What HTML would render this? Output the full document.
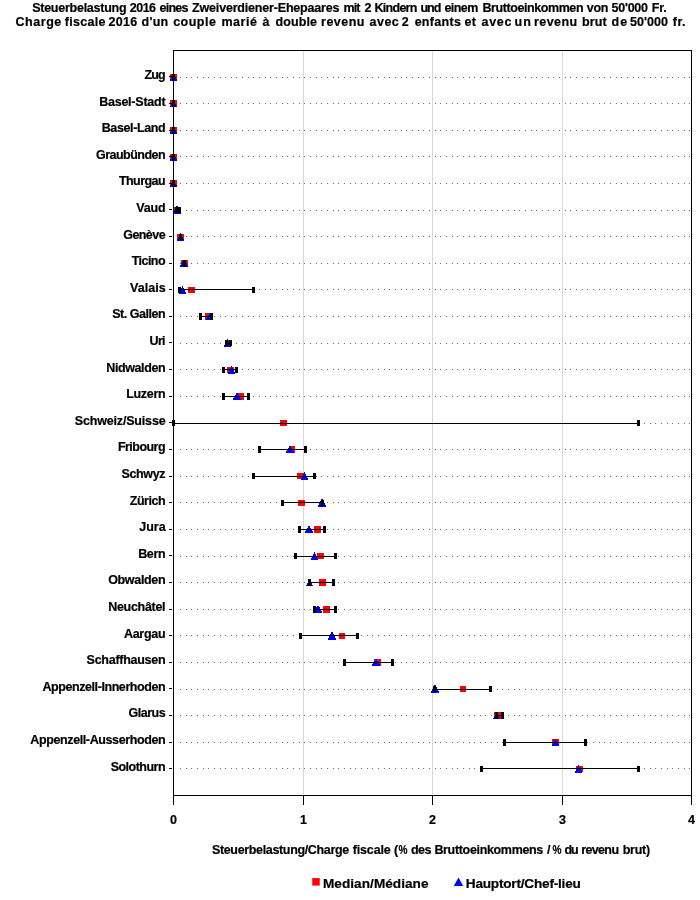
<!DOCTYPE html>
<html><head><meta charset="utf-8"><title>Steuerbelastung 2016</title>
<style>
html,body{margin:0;padding:0;background:#fff;}
body{width:700px;height:900px;overflow:hidden;}
svg{display:block;will-change:transform;font-family:"Liberation Sans",sans-serif;font-weight:bold;fill:#000;}
text{stroke:#000;stroke-width:0.2px;}
.t{font-size:12.5px;}
.c{font-size:12.5px;text-anchor:end;}
.x{font-size:12.5px;text-anchor:middle;}
.l{font-size:13.6px;}
.k{shape-rendering:crispEdges;}
</style></head><body>
<svg width="700" height="900" viewBox="0 0 700 900">
<rect width="700" height="900" fill="#fff"/>

<g class="t"><text x="32.17" y="12" textLength="94.41" lengthAdjust="spacing">Steuerbelastung</text><text x="129.86" y="12" textLength="26.12" lengthAdjust="spacing">2016</text><text x="159.48" y="12" textLength="29.03" lengthAdjust="spacing">eines</text><text x="192.07" y="12" textLength="147.43" lengthAdjust="spacing">Zweiverdiener-Ehepaares</text><text x="343.39" y="12" textLength="17.01" lengthAdjust="spacing">mit</text><text x="364.62" y="12">2</text><text x="374.41" y="12" textLength="43.02" lengthAdjust="spacing">Kindern</text><text x="420.44" y="12" textLength="21" lengthAdjust="spacing">und</text><text x="444.45" y="12" textLength="33.95" lengthAdjust="spacing">einem</text><text x="482.39" y="12" textLength="101.13" lengthAdjust="spacing">Bruttoeinkommen</text><text x="586.76" y="12" textLength="21.75" lengthAdjust="spacing">von</text><text x="611.59" y="12" textLength="36.39" lengthAdjust="spacing">50'000</text><text x="651.84" y="12" textLength="14.96" lengthAdjust="spacing">Fr.</text></g>
<g class="t"><text x="15.54" y="26" textLength="45.75" lengthAdjust="spacing">Charge</text><text x="64.84" y="26" textLength="40.63" lengthAdjust="spacing">fiscale</text><text x="108.62" y="26" textLength="28.57" lengthAdjust="spacing">2016</text><text x="141.54" y="26" textLength="26.7" lengthAdjust="spacing">d'un</text><text x="173.15" y="26" textLength="42.73" lengthAdjust="spacing">couple</text><text x="221.38" y="26" textLength="35.66" lengthAdjust="spacing">marié</text><text x="262.57" y="26">à</text><text x="275.57" y="26" textLength="41.47" lengthAdjust="spacing">double</text><text x="321.02" y="26" textLength="43.49" lengthAdjust="spacing">revenu</text><text x="369.62" y="26" textLength="29.09" lengthAdjust="spacing">avec</text><text x="401.7" y="26">2</text><text x="414.63" y="26" textLength="46.21" lengthAdjust="spacing">enfants</text><text x="464.61" y="26" textLength="11.3" lengthAdjust="spacing">et</text><text x="481.52" y="26" textLength="29.82" lengthAdjust="spacing">avec</text><text x="514.49" y="26" textLength="16.51" lengthAdjust="spacing">un</text><text x="533.91" y="26" textLength="43.31" lengthAdjust="spacing">revenu</text><text x="582.02" y="26" textLength="24.63" lengthAdjust="spacing">brut</text><text x="611.59" y="26" textLength="15.49" lengthAdjust="spacing">de</text><text x="630.1" y="26" textLength="37.97" lengthAdjust="spacing">50'000</text><text x="672.79" y="26" textLength="12.67" lengthAdjust="spacing">fr.</text></g>
<g class="k" fill="#d8d8d8"><rect x="303" y="51" width="1" height="744"/><rect x="432" y="51" width="1" height="744"/><rect x="562" y="51" width="1" height="744"/></g>
<g class="k" stroke="#666" stroke-width="1" fill="none"><path d="M180 77.5h1m5 0h1m4 0h1m5 0h1m5 0h1m4 0h1m5 0h1m5 0h1m4 0h1m5 0h1m4 0h1m5 0h1m5 0h1m4 0h1m5 0h1m5 0h1m4 0h1m5 0h1m5 0h1m4 0h1m5 0h1m5 0h1m4 0h1m5 0h1m5 0h1m4 0h1m5 0h1m5 0h1m4 0h1m5 0h1m5 0h1m4 0h1m5 0h1m5 0h1m4 0h1m5 0h1m5 0h1m4 0h1m5 0h1m5 0h1m4 0h1m5 0h1m5 0h1m4 0h1m5 0h1m5 0h1m4 0h1m5 0h1m5 0h1m4 0h1m5 0h1m5 0h1m4 0h1m5 0h1m4 0h1m5 0h1m5 0h1m4 0h1m5 0h1m5 0h1m4 0h1m5 0h1m5 0h1m4 0h1m5 0h1m5 0h1m4 0h1m5 0h1m5 0h1m4 0h1m5 0h1m5 0h1m4 0h1m5 0h1m5 0h1m4 0h1m5 0h1m5 0h1m4 0h1m5 0h1m5 0h1m4 0h1m5 0h1m5 0h1m4 0h1m5 0h1m5 0h1m4 0h1m5 0h1m5 0h1m4 0h1"/><path d="M180 103.5h1m5 0h1m4 0h1m5 0h1m5 0h1m4 0h1m5 0h1m5 0h1m4 0h1m5 0h1m4 0h1m5 0h1m5 0h1m4 0h1m5 0h1m5 0h1m4 0h1m5 0h1m5 0h1m4 0h1m5 0h1m5 0h1m4 0h1m5 0h1m5 0h1m4 0h1m5 0h1m5 0h1m4 0h1m5 0h1m5 0h1m4 0h1m5 0h1m5 0h1m4 0h1m5 0h1m5 0h1m4 0h1m5 0h1m5 0h1m4 0h1m5 0h1m5 0h1m4 0h1m5 0h1m5 0h1m4 0h1m5 0h1m5 0h1m4 0h1m5 0h1m5 0h1m4 0h1m5 0h1m4 0h1m5 0h1m5 0h1m4 0h1m5 0h1m5 0h1m4 0h1m5 0h1m5 0h1m4 0h1m5 0h1m5 0h1m4 0h1m5 0h1m5 0h1m4 0h1m5 0h1m5 0h1m4 0h1m5 0h1m5 0h1m4 0h1m5 0h1m5 0h1m4 0h1m5 0h1m5 0h1m4 0h1m5 0h1m5 0h1m4 0h1m5 0h1m5 0h1m4 0h1m5 0h1m5 0h1m4 0h1"/><path d="M180 130.5h1m5 0h1m4 0h1m5 0h1m5 0h1m4 0h1m5 0h1m5 0h1m4 0h1m5 0h1m4 0h1m5 0h1m5 0h1m4 0h1m5 0h1m5 0h1m4 0h1m5 0h1m5 0h1m4 0h1m5 0h1m5 0h1m4 0h1m5 0h1m5 0h1m4 0h1m5 0h1m5 0h1m4 0h1m5 0h1m5 0h1m4 0h1m5 0h1m5 0h1m4 0h1m5 0h1m5 0h1m4 0h1m5 0h1m5 0h1m4 0h1m5 0h1m5 0h1m4 0h1m5 0h1m5 0h1m4 0h1m5 0h1m5 0h1m4 0h1m5 0h1m5 0h1m4 0h1m5 0h1m4 0h1m5 0h1m5 0h1m4 0h1m5 0h1m5 0h1m4 0h1m5 0h1m5 0h1m4 0h1m5 0h1m5 0h1m4 0h1m5 0h1m5 0h1m4 0h1m5 0h1m5 0h1m4 0h1m5 0h1m5 0h1m4 0h1m5 0h1m5 0h1m4 0h1m5 0h1m5 0h1m4 0h1m5 0h1m5 0h1m4 0h1m5 0h1m5 0h1m4 0h1m5 0h1m5 0h1m4 0h1"/><path d="M180 156.5h1m5 0h1m4 0h1m5 0h1m5 0h1m4 0h1m5 0h1m5 0h1m4 0h1m5 0h1m4 0h1m5 0h1m5 0h1m4 0h1m5 0h1m5 0h1m4 0h1m5 0h1m5 0h1m4 0h1m5 0h1m5 0h1m4 0h1m5 0h1m5 0h1m4 0h1m5 0h1m5 0h1m4 0h1m5 0h1m5 0h1m4 0h1m5 0h1m5 0h1m4 0h1m5 0h1m5 0h1m4 0h1m5 0h1m5 0h1m4 0h1m5 0h1m5 0h1m4 0h1m5 0h1m5 0h1m4 0h1m5 0h1m5 0h1m4 0h1m5 0h1m5 0h1m4 0h1m5 0h1m4 0h1m5 0h1m5 0h1m4 0h1m5 0h1m5 0h1m4 0h1m5 0h1m5 0h1m4 0h1m5 0h1m5 0h1m4 0h1m5 0h1m5 0h1m4 0h1m5 0h1m5 0h1m4 0h1m5 0h1m5 0h1m4 0h1m5 0h1m5 0h1m4 0h1m5 0h1m5 0h1m4 0h1m5 0h1m5 0h1m4 0h1m5 0h1m5 0h1m4 0h1m5 0h1m5 0h1m4 0h1"/><path d="M180 183.5h1m5 0h1m4 0h1m5 0h1m5 0h1m4 0h1m5 0h1m5 0h1m4 0h1m5 0h1m4 0h1m5 0h1m5 0h1m4 0h1m5 0h1m5 0h1m4 0h1m5 0h1m5 0h1m4 0h1m5 0h1m5 0h1m4 0h1m5 0h1m5 0h1m4 0h1m5 0h1m5 0h1m4 0h1m5 0h1m5 0h1m4 0h1m5 0h1m5 0h1m4 0h1m5 0h1m5 0h1m4 0h1m5 0h1m5 0h1m4 0h1m5 0h1m5 0h1m4 0h1m5 0h1m5 0h1m4 0h1m5 0h1m5 0h1m4 0h1m5 0h1m5 0h1m4 0h1m5 0h1m4 0h1m5 0h1m5 0h1m4 0h1m5 0h1m5 0h1m4 0h1m5 0h1m5 0h1m4 0h1m5 0h1m5 0h1m4 0h1m5 0h1m5 0h1m4 0h1m5 0h1m5 0h1m4 0h1m5 0h1m5 0h1m4 0h1m5 0h1m5 0h1m4 0h1m5 0h1m5 0h1m4 0h1m5 0h1m5 0h1m4 0h1m5 0h1m5 0h1m4 0h1m5 0h1m5 0h1m4 0h1"/><path d="M180 210.5h1m5 0h1m4 0h1m5 0h1m5 0h1m4 0h1m5 0h1m5 0h1m4 0h1m5 0h1m4 0h1m5 0h1m5 0h1m4 0h1m5 0h1m5 0h1m4 0h1m5 0h1m5 0h1m4 0h1m5 0h1m5 0h1m4 0h1m5 0h1m5 0h1m4 0h1m5 0h1m5 0h1m4 0h1m5 0h1m5 0h1m4 0h1m5 0h1m5 0h1m4 0h1m5 0h1m5 0h1m4 0h1m5 0h1m5 0h1m4 0h1m5 0h1m5 0h1m4 0h1m5 0h1m5 0h1m4 0h1m5 0h1m5 0h1m4 0h1m5 0h1m5 0h1m4 0h1m5 0h1m4 0h1m5 0h1m5 0h1m4 0h1m5 0h1m5 0h1m4 0h1m5 0h1m5 0h1m4 0h1m5 0h1m5 0h1m4 0h1m5 0h1m5 0h1m4 0h1m5 0h1m5 0h1m4 0h1m5 0h1m5 0h1m4 0h1m5 0h1m5 0h1m4 0h1m5 0h1m5 0h1m4 0h1m5 0h1m5 0h1m4 0h1m5 0h1m5 0h1m4 0h1m5 0h1m5 0h1m4 0h1"/><path d="M180 236.5h1m5 0h1m4 0h1m5 0h1m5 0h1m4 0h1m5 0h1m5 0h1m4 0h1m5 0h1m4 0h1m5 0h1m5 0h1m4 0h1m5 0h1m5 0h1m4 0h1m5 0h1m5 0h1m4 0h1m5 0h1m5 0h1m4 0h1m5 0h1m5 0h1m4 0h1m5 0h1m5 0h1m4 0h1m5 0h1m5 0h1m4 0h1m5 0h1m5 0h1m4 0h1m5 0h1m5 0h1m4 0h1m5 0h1m5 0h1m4 0h1m5 0h1m5 0h1m4 0h1m5 0h1m5 0h1m4 0h1m5 0h1m5 0h1m4 0h1m5 0h1m5 0h1m4 0h1m5 0h1m4 0h1m5 0h1m5 0h1m4 0h1m5 0h1m5 0h1m4 0h1m5 0h1m5 0h1m4 0h1m5 0h1m5 0h1m4 0h1m5 0h1m5 0h1m4 0h1m5 0h1m5 0h1m4 0h1m5 0h1m5 0h1m4 0h1m5 0h1m5 0h1m4 0h1m5 0h1m5 0h1m4 0h1m5 0h1m5 0h1m4 0h1m5 0h1m5 0h1m4 0h1m5 0h1m5 0h1m4 0h1"/><path d="M180 263.5h1m5 0h1m4 0h1m5 0h1m5 0h1m4 0h1m5 0h1m5 0h1m4 0h1m5 0h1m4 0h1m5 0h1m5 0h1m4 0h1m5 0h1m5 0h1m4 0h1m5 0h1m5 0h1m4 0h1m5 0h1m5 0h1m4 0h1m5 0h1m5 0h1m4 0h1m5 0h1m5 0h1m4 0h1m5 0h1m5 0h1m4 0h1m5 0h1m5 0h1m4 0h1m5 0h1m5 0h1m4 0h1m5 0h1m5 0h1m4 0h1m5 0h1m5 0h1m4 0h1m5 0h1m5 0h1m4 0h1m5 0h1m5 0h1m4 0h1m5 0h1m5 0h1m4 0h1m5 0h1m4 0h1m5 0h1m5 0h1m4 0h1m5 0h1m5 0h1m4 0h1m5 0h1m5 0h1m4 0h1m5 0h1m5 0h1m4 0h1m5 0h1m5 0h1m4 0h1m5 0h1m5 0h1m4 0h1m5 0h1m5 0h1m4 0h1m5 0h1m5 0h1m4 0h1m5 0h1m5 0h1m4 0h1m5 0h1m5 0h1m4 0h1m5 0h1m5 0h1m4 0h1m5 0h1m5 0h1m4 0h1"/><path d="M180 289.5h1m5 0h1m4 0h1m5 0h1m5 0h1m4 0h1m5 0h1m5 0h1m4 0h1m5 0h1m4 0h1m5 0h1m5 0h1m4 0h1m5 0h1m5 0h1m4 0h1m5 0h1m5 0h1m4 0h1m5 0h1m5 0h1m4 0h1m5 0h1m5 0h1m4 0h1m5 0h1m5 0h1m4 0h1m5 0h1m5 0h1m4 0h1m5 0h1m5 0h1m4 0h1m5 0h1m5 0h1m4 0h1m5 0h1m5 0h1m4 0h1m5 0h1m5 0h1m4 0h1m5 0h1m5 0h1m4 0h1m5 0h1m5 0h1m4 0h1m5 0h1m5 0h1m4 0h1m5 0h1m4 0h1m5 0h1m5 0h1m4 0h1m5 0h1m5 0h1m4 0h1m5 0h1m5 0h1m4 0h1m5 0h1m5 0h1m4 0h1m5 0h1m5 0h1m4 0h1m5 0h1m5 0h1m4 0h1m5 0h1m5 0h1m4 0h1m5 0h1m5 0h1m4 0h1m5 0h1m5 0h1m4 0h1m5 0h1m5 0h1m4 0h1m5 0h1m5 0h1m4 0h1m5 0h1m5 0h1m4 0h1"/><path d="M180 316.5h1m5 0h1m4 0h1m5 0h1m5 0h1m4 0h1m5 0h1m5 0h1m4 0h1m5 0h1m4 0h1m5 0h1m5 0h1m4 0h1m5 0h1m5 0h1m4 0h1m5 0h1m5 0h1m4 0h1m5 0h1m5 0h1m4 0h1m5 0h1m5 0h1m4 0h1m5 0h1m5 0h1m4 0h1m5 0h1m5 0h1m4 0h1m5 0h1m5 0h1m4 0h1m5 0h1m5 0h1m4 0h1m5 0h1m5 0h1m4 0h1m5 0h1m5 0h1m4 0h1m5 0h1m5 0h1m4 0h1m5 0h1m5 0h1m4 0h1m5 0h1m5 0h1m4 0h1m5 0h1m4 0h1m5 0h1m5 0h1m4 0h1m5 0h1m5 0h1m4 0h1m5 0h1m5 0h1m4 0h1m5 0h1m5 0h1m4 0h1m5 0h1m5 0h1m4 0h1m5 0h1m5 0h1m4 0h1m5 0h1m5 0h1m4 0h1m5 0h1m5 0h1m4 0h1m5 0h1m5 0h1m4 0h1m5 0h1m5 0h1m4 0h1m5 0h1m5 0h1m4 0h1m5 0h1m5 0h1m4 0h1"/><path d="M180 343.5h1m5 0h1m4 0h1m5 0h1m5 0h1m4 0h1m5 0h1m5 0h1m4 0h1m5 0h1m4 0h1m5 0h1m5 0h1m4 0h1m5 0h1m5 0h1m4 0h1m5 0h1m5 0h1m4 0h1m5 0h1m5 0h1m4 0h1m5 0h1m5 0h1m4 0h1m5 0h1m5 0h1m4 0h1m5 0h1m5 0h1m4 0h1m5 0h1m5 0h1m4 0h1m5 0h1m5 0h1m4 0h1m5 0h1m5 0h1m4 0h1m5 0h1m5 0h1m4 0h1m5 0h1m5 0h1m4 0h1m5 0h1m5 0h1m4 0h1m5 0h1m5 0h1m4 0h1m5 0h1m4 0h1m5 0h1m5 0h1m4 0h1m5 0h1m5 0h1m4 0h1m5 0h1m5 0h1m4 0h1m5 0h1m5 0h1m4 0h1m5 0h1m5 0h1m4 0h1m5 0h1m5 0h1m4 0h1m5 0h1m5 0h1m4 0h1m5 0h1m5 0h1m4 0h1m5 0h1m5 0h1m4 0h1m5 0h1m5 0h1m4 0h1m5 0h1m5 0h1m4 0h1m5 0h1m5 0h1m4 0h1"/><path d="M180 369.5h1m5 0h1m4 0h1m5 0h1m5 0h1m4 0h1m5 0h1m5 0h1m4 0h1m5 0h1m4 0h1m5 0h1m5 0h1m4 0h1m5 0h1m5 0h1m4 0h1m5 0h1m5 0h1m4 0h1m5 0h1m5 0h1m4 0h1m5 0h1m5 0h1m4 0h1m5 0h1m5 0h1m4 0h1m5 0h1m5 0h1m4 0h1m5 0h1m5 0h1m4 0h1m5 0h1m5 0h1m4 0h1m5 0h1m5 0h1m4 0h1m5 0h1m5 0h1m4 0h1m5 0h1m5 0h1m4 0h1m5 0h1m5 0h1m4 0h1m5 0h1m5 0h1m4 0h1m5 0h1m4 0h1m5 0h1m5 0h1m4 0h1m5 0h1m5 0h1m4 0h1m5 0h1m5 0h1m4 0h1m5 0h1m5 0h1m4 0h1m5 0h1m5 0h1m4 0h1m5 0h1m5 0h1m4 0h1m5 0h1m5 0h1m4 0h1m5 0h1m5 0h1m4 0h1m5 0h1m5 0h1m4 0h1m5 0h1m5 0h1m4 0h1m5 0h1m5 0h1m4 0h1m5 0h1m5 0h1m4 0h1"/><path d="M180 396.5h1m5 0h1m4 0h1m5 0h1m5 0h1m4 0h1m5 0h1m5 0h1m4 0h1m5 0h1m4 0h1m5 0h1m5 0h1m4 0h1m5 0h1m5 0h1m4 0h1m5 0h1m5 0h1m4 0h1m5 0h1m5 0h1m4 0h1m5 0h1m5 0h1m4 0h1m5 0h1m5 0h1m4 0h1m5 0h1m5 0h1m4 0h1m5 0h1m5 0h1m4 0h1m5 0h1m5 0h1m4 0h1m5 0h1m5 0h1m4 0h1m5 0h1m5 0h1m4 0h1m5 0h1m5 0h1m4 0h1m5 0h1m5 0h1m4 0h1m5 0h1m5 0h1m4 0h1m5 0h1m4 0h1m5 0h1m5 0h1m4 0h1m5 0h1m5 0h1m4 0h1m5 0h1m5 0h1m4 0h1m5 0h1m5 0h1m4 0h1m5 0h1m5 0h1m4 0h1m5 0h1m5 0h1m4 0h1m5 0h1m5 0h1m4 0h1m5 0h1m5 0h1m4 0h1m5 0h1m5 0h1m4 0h1m5 0h1m5 0h1m4 0h1m5 0h1m5 0h1m4 0h1m5 0h1m5 0h1m4 0h1"/><path d="M180 423.5h1m5 0h1m4 0h1m5 0h1m5 0h1m4 0h1m5 0h1m5 0h1m4 0h1m5 0h1m4 0h1m5 0h1m5 0h1m4 0h1m5 0h1m5 0h1m4 0h1m5 0h1m5 0h1m4 0h1m5 0h1m5 0h1m4 0h1m5 0h1m5 0h1m4 0h1m5 0h1m5 0h1m4 0h1m5 0h1m5 0h1m4 0h1m5 0h1m5 0h1m4 0h1m5 0h1m5 0h1m4 0h1m5 0h1m5 0h1m4 0h1m5 0h1m5 0h1m4 0h1m5 0h1m5 0h1m4 0h1m5 0h1m5 0h1m4 0h1m5 0h1m5 0h1m4 0h1m5 0h1m4 0h1m5 0h1m5 0h1m4 0h1m5 0h1m5 0h1m4 0h1m5 0h1m5 0h1m4 0h1m5 0h1m5 0h1m4 0h1m5 0h1m5 0h1m4 0h1m5 0h1m5 0h1m4 0h1m5 0h1m5 0h1m4 0h1m5 0h1m5 0h1m4 0h1m5 0h1m5 0h1m4 0h1m5 0h1m5 0h1m4 0h1m5 0h1m5 0h1m4 0h1m5 0h1m5 0h1m4 0h1"/><path d="M180 449.5h1m5 0h1m4 0h1m5 0h1m5 0h1m4 0h1m5 0h1m5 0h1m4 0h1m5 0h1m4 0h1m5 0h1m5 0h1m4 0h1m5 0h1m5 0h1m4 0h1m5 0h1m5 0h1m4 0h1m5 0h1m5 0h1m4 0h1m5 0h1m5 0h1m4 0h1m5 0h1m5 0h1m4 0h1m5 0h1m5 0h1m4 0h1m5 0h1m5 0h1m4 0h1m5 0h1m5 0h1m4 0h1m5 0h1m5 0h1m4 0h1m5 0h1m5 0h1m4 0h1m5 0h1m5 0h1m4 0h1m5 0h1m5 0h1m4 0h1m5 0h1m5 0h1m4 0h1m5 0h1m4 0h1m5 0h1m5 0h1m4 0h1m5 0h1m5 0h1m4 0h1m5 0h1m5 0h1m4 0h1m5 0h1m5 0h1m4 0h1m5 0h1m5 0h1m4 0h1m5 0h1m5 0h1m4 0h1m5 0h1m5 0h1m4 0h1m5 0h1m5 0h1m4 0h1m5 0h1m5 0h1m4 0h1m5 0h1m5 0h1m4 0h1m5 0h1m5 0h1m4 0h1m5 0h1m5 0h1m4 0h1"/><path d="M180 476.5h1m5 0h1m4 0h1m5 0h1m5 0h1m4 0h1m5 0h1m5 0h1m4 0h1m5 0h1m4 0h1m5 0h1m5 0h1m4 0h1m5 0h1m5 0h1m4 0h1m5 0h1m5 0h1m4 0h1m5 0h1m5 0h1m4 0h1m5 0h1m5 0h1m4 0h1m5 0h1m5 0h1m4 0h1m5 0h1m5 0h1m4 0h1m5 0h1m5 0h1m4 0h1m5 0h1m5 0h1m4 0h1m5 0h1m5 0h1m4 0h1m5 0h1m5 0h1m4 0h1m5 0h1m5 0h1m4 0h1m5 0h1m5 0h1m4 0h1m5 0h1m5 0h1m4 0h1m5 0h1m4 0h1m5 0h1m5 0h1m4 0h1m5 0h1m5 0h1m4 0h1m5 0h1m5 0h1m4 0h1m5 0h1m5 0h1m4 0h1m5 0h1m5 0h1m4 0h1m5 0h1m5 0h1m4 0h1m5 0h1m5 0h1m4 0h1m5 0h1m5 0h1m4 0h1m5 0h1m5 0h1m4 0h1m5 0h1m5 0h1m4 0h1m5 0h1m5 0h1m4 0h1m5 0h1m5 0h1m4 0h1"/><path d="M180 502.5h1m5 0h1m4 0h1m5 0h1m5 0h1m4 0h1m5 0h1m5 0h1m4 0h1m5 0h1m4 0h1m5 0h1m5 0h1m4 0h1m5 0h1m5 0h1m4 0h1m5 0h1m5 0h1m4 0h1m5 0h1m5 0h1m4 0h1m5 0h1m5 0h1m4 0h1m5 0h1m5 0h1m4 0h1m5 0h1m5 0h1m4 0h1m5 0h1m5 0h1m4 0h1m5 0h1m5 0h1m4 0h1m5 0h1m5 0h1m4 0h1m5 0h1m5 0h1m4 0h1m5 0h1m5 0h1m4 0h1m5 0h1m5 0h1m4 0h1m5 0h1m5 0h1m4 0h1m5 0h1m4 0h1m5 0h1m5 0h1m4 0h1m5 0h1m5 0h1m4 0h1m5 0h1m5 0h1m4 0h1m5 0h1m5 0h1m4 0h1m5 0h1m5 0h1m4 0h1m5 0h1m5 0h1m4 0h1m5 0h1m5 0h1m4 0h1m5 0h1m5 0h1m4 0h1m5 0h1m5 0h1m4 0h1m5 0h1m5 0h1m4 0h1m5 0h1m5 0h1m4 0h1m5 0h1m5 0h1m4 0h1"/><path d="M180 529.5h1m5 0h1m4 0h1m5 0h1m5 0h1m4 0h1m5 0h1m5 0h1m4 0h1m5 0h1m4 0h1m5 0h1m5 0h1m4 0h1m5 0h1m5 0h1m4 0h1m5 0h1m5 0h1m4 0h1m5 0h1m5 0h1m4 0h1m5 0h1m5 0h1m4 0h1m5 0h1m5 0h1m4 0h1m5 0h1m5 0h1m4 0h1m5 0h1m5 0h1m4 0h1m5 0h1m5 0h1m4 0h1m5 0h1m5 0h1m4 0h1m5 0h1m5 0h1m4 0h1m5 0h1m5 0h1m4 0h1m5 0h1m5 0h1m4 0h1m5 0h1m5 0h1m4 0h1m5 0h1m4 0h1m5 0h1m5 0h1m4 0h1m5 0h1m5 0h1m4 0h1m5 0h1m5 0h1m4 0h1m5 0h1m5 0h1m4 0h1m5 0h1m5 0h1m4 0h1m5 0h1m5 0h1m4 0h1m5 0h1m5 0h1m4 0h1m5 0h1m5 0h1m4 0h1m5 0h1m5 0h1m4 0h1m5 0h1m5 0h1m4 0h1m5 0h1m5 0h1m4 0h1m5 0h1m5 0h1m4 0h1"/><path d="M180 556.5h1m5 0h1m4 0h1m5 0h1m5 0h1m4 0h1m5 0h1m5 0h1m4 0h1m5 0h1m4 0h1m5 0h1m5 0h1m4 0h1m5 0h1m5 0h1m4 0h1m5 0h1m5 0h1m4 0h1m5 0h1m5 0h1m4 0h1m5 0h1m5 0h1m4 0h1m5 0h1m5 0h1m4 0h1m5 0h1m5 0h1m4 0h1m5 0h1m5 0h1m4 0h1m5 0h1m5 0h1m4 0h1m5 0h1m5 0h1m4 0h1m5 0h1m5 0h1m4 0h1m5 0h1m5 0h1m4 0h1m5 0h1m5 0h1m4 0h1m5 0h1m5 0h1m4 0h1m5 0h1m4 0h1m5 0h1m5 0h1m4 0h1m5 0h1m5 0h1m4 0h1m5 0h1m5 0h1m4 0h1m5 0h1m5 0h1m4 0h1m5 0h1m5 0h1m4 0h1m5 0h1m5 0h1m4 0h1m5 0h1m5 0h1m4 0h1m5 0h1m5 0h1m4 0h1m5 0h1m5 0h1m4 0h1m5 0h1m5 0h1m4 0h1m5 0h1m5 0h1m4 0h1m5 0h1m5 0h1m4 0h1"/><path d="M180 582.5h1m5 0h1m4 0h1m5 0h1m5 0h1m4 0h1m5 0h1m5 0h1m4 0h1m5 0h1m4 0h1m5 0h1m5 0h1m4 0h1m5 0h1m5 0h1m4 0h1m5 0h1m5 0h1m4 0h1m5 0h1m5 0h1m4 0h1m5 0h1m5 0h1m4 0h1m5 0h1m5 0h1m4 0h1m5 0h1m5 0h1m4 0h1m5 0h1m5 0h1m4 0h1m5 0h1m5 0h1m4 0h1m5 0h1m5 0h1m4 0h1m5 0h1m5 0h1m4 0h1m5 0h1m5 0h1m4 0h1m5 0h1m5 0h1m4 0h1m5 0h1m5 0h1m4 0h1m5 0h1m4 0h1m5 0h1m5 0h1m4 0h1m5 0h1m5 0h1m4 0h1m5 0h1m5 0h1m4 0h1m5 0h1m5 0h1m4 0h1m5 0h1m5 0h1m4 0h1m5 0h1m5 0h1m4 0h1m5 0h1m5 0h1m4 0h1m5 0h1m5 0h1m4 0h1m5 0h1m5 0h1m4 0h1m5 0h1m5 0h1m4 0h1m5 0h1m5 0h1m4 0h1m5 0h1m5 0h1m4 0h1"/><path d="M180 609.5h1m5 0h1m4 0h1m5 0h1m5 0h1m4 0h1m5 0h1m5 0h1m4 0h1m5 0h1m4 0h1m5 0h1m5 0h1m4 0h1m5 0h1m5 0h1m4 0h1m5 0h1m5 0h1m4 0h1m5 0h1m5 0h1m4 0h1m5 0h1m5 0h1m4 0h1m5 0h1m5 0h1m4 0h1m5 0h1m5 0h1m4 0h1m5 0h1m5 0h1m4 0h1m5 0h1m5 0h1m4 0h1m5 0h1m5 0h1m4 0h1m5 0h1m5 0h1m4 0h1m5 0h1m5 0h1m4 0h1m5 0h1m5 0h1m4 0h1m5 0h1m5 0h1m4 0h1m5 0h1m4 0h1m5 0h1m5 0h1m4 0h1m5 0h1m5 0h1m4 0h1m5 0h1m5 0h1m4 0h1m5 0h1m5 0h1m4 0h1m5 0h1m5 0h1m4 0h1m5 0h1m5 0h1m4 0h1m5 0h1m5 0h1m4 0h1m5 0h1m5 0h1m4 0h1m5 0h1m5 0h1m4 0h1m5 0h1m5 0h1m4 0h1m5 0h1m5 0h1m4 0h1m5 0h1m5 0h1m4 0h1"/><path d="M180 635.5h1m5 0h1m4 0h1m5 0h1m5 0h1m4 0h1m5 0h1m5 0h1m4 0h1m5 0h1m4 0h1m5 0h1m5 0h1m4 0h1m5 0h1m5 0h1m4 0h1m5 0h1m5 0h1m4 0h1m5 0h1m5 0h1m4 0h1m5 0h1m5 0h1m4 0h1m5 0h1m5 0h1m4 0h1m5 0h1m5 0h1m4 0h1m5 0h1m5 0h1m4 0h1m5 0h1m5 0h1m4 0h1m5 0h1m5 0h1m4 0h1m5 0h1m5 0h1m4 0h1m5 0h1m5 0h1m4 0h1m5 0h1m5 0h1m4 0h1m5 0h1m5 0h1m4 0h1m5 0h1m4 0h1m5 0h1m5 0h1m4 0h1m5 0h1m5 0h1m4 0h1m5 0h1m5 0h1m4 0h1m5 0h1m5 0h1m4 0h1m5 0h1m5 0h1m4 0h1m5 0h1m5 0h1m4 0h1m5 0h1m5 0h1m4 0h1m5 0h1m5 0h1m4 0h1m5 0h1m5 0h1m4 0h1m5 0h1m5 0h1m4 0h1m5 0h1m5 0h1m4 0h1m5 0h1m5 0h1m4 0h1"/><path d="M180 662.5h1m5 0h1m4 0h1m5 0h1m5 0h1m4 0h1m5 0h1m5 0h1m4 0h1m5 0h1m4 0h1m5 0h1m5 0h1m4 0h1m5 0h1m5 0h1m4 0h1m5 0h1m5 0h1m4 0h1m5 0h1m5 0h1m4 0h1m5 0h1m5 0h1m4 0h1m5 0h1m5 0h1m4 0h1m5 0h1m5 0h1m4 0h1m5 0h1m5 0h1m4 0h1m5 0h1m5 0h1m4 0h1m5 0h1m5 0h1m4 0h1m5 0h1m5 0h1m4 0h1m5 0h1m5 0h1m4 0h1m5 0h1m5 0h1m4 0h1m5 0h1m5 0h1m4 0h1m5 0h1m4 0h1m5 0h1m5 0h1m4 0h1m5 0h1m5 0h1m4 0h1m5 0h1m5 0h1m4 0h1m5 0h1m5 0h1m4 0h1m5 0h1m5 0h1m4 0h1m5 0h1m5 0h1m4 0h1m5 0h1m5 0h1m4 0h1m5 0h1m5 0h1m4 0h1m5 0h1m5 0h1m4 0h1m5 0h1m5 0h1m4 0h1m5 0h1m5 0h1m4 0h1m5 0h1m5 0h1m4 0h1"/><path d="M180 689.5h1m5 0h1m4 0h1m5 0h1m5 0h1m4 0h1m5 0h1m5 0h1m4 0h1m5 0h1m4 0h1m5 0h1m5 0h1m4 0h1m5 0h1m5 0h1m4 0h1m5 0h1m5 0h1m4 0h1m5 0h1m5 0h1m4 0h1m5 0h1m5 0h1m4 0h1m5 0h1m5 0h1m4 0h1m5 0h1m5 0h1m4 0h1m5 0h1m5 0h1m4 0h1m5 0h1m5 0h1m4 0h1m5 0h1m5 0h1m4 0h1m5 0h1m5 0h1m4 0h1m5 0h1m5 0h1m4 0h1m5 0h1m5 0h1m4 0h1m5 0h1m5 0h1m4 0h1m5 0h1m4 0h1m5 0h1m5 0h1m4 0h1m5 0h1m5 0h1m4 0h1m5 0h1m5 0h1m4 0h1m5 0h1m5 0h1m4 0h1m5 0h1m5 0h1m4 0h1m5 0h1m5 0h1m4 0h1m5 0h1m5 0h1m4 0h1m5 0h1m5 0h1m4 0h1m5 0h1m5 0h1m4 0h1m5 0h1m5 0h1m4 0h1m5 0h1m5 0h1m4 0h1m5 0h1m5 0h1m4 0h1"/><path d="M180 715.5h1m5 0h1m4 0h1m5 0h1m5 0h1m4 0h1m5 0h1m5 0h1m4 0h1m5 0h1m4 0h1m5 0h1m5 0h1m4 0h1m5 0h1m5 0h1m4 0h1m5 0h1m5 0h1m4 0h1m5 0h1m5 0h1m4 0h1m5 0h1m5 0h1m4 0h1m5 0h1m5 0h1m4 0h1m5 0h1m5 0h1m4 0h1m5 0h1m5 0h1m4 0h1m5 0h1m5 0h1m4 0h1m5 0h1m5 0h1m4 0h1m5 0h1m5 0h1m4 0h1m5 0h1m5 0h1m4 0h1m5 0h1m5 0h1m4 0h1m5 0h1m5 0h1m4 0h1m5 0h1m4 0h1m5 0h1m5 0h1m4 0h1m5 0h1m5 0h1m4 0h1m5 0h1m5 0h1m4 0h1m5 0h1m5 0h1m4 0h1m5 0h1m5 0h1m4 0h1m5 0h1m5 0h1m4 0h1m5 0h1m5 0h1m4 0h1m5 0h1m5 0h1m4 0h1m5 0h1m5 0h1m4 0h1m5 0h1m5 0h1m4 0h1m5 0h1m5 0h1m4 0h1m5 0h1m5 0h1m4 0h1"/><path d="M180 742.5h1m5 0h1m4 0h1m5 0h1m5 0h1m4 0h1m5 0h1m5 0h1m4 0h1m5 0h1m4 0h1m5 0h1m5 0h1m4 0h1m5 0h1m5 0h1m4 0h1m5 0h1m5 0h1m4 0h1m5 0h1m5 0h1m4 0h1m5 0h1m5 0h1m4 0h1m5 0h1m5 0h1m4 0h1m5 0h1m5 0h1m4 0h1m5 0h1m5 0h1m4 0h1m5 0h1m5 0h1m4 0h1m5 0h1m5 0h1m4 0h1m5 0h1m5 0h1m4 0h1m5 0h1m5 0h1m4 0h1m5 0h1m5 0h1m4 0h1m5 0h1m5 0h1m4 0h1m5 0h1m4 0h1m5 0h1m5 0h1m4 0h1m5 0h1m5 0h1m4 0h1m5 0h1m5 0h1m4 0h1m5 0h1m5 0h1m4 0h1m5 0h1m5 0h1m4 0h1m5 0h1m5 0h1m4 0h1m5 0h1m5 0h1m4 0h1m5 0h1m5 0h1m4 0h1m5 0h1m5 0h1m4 0h1m5 0h1m5 0h1m4 0h1m5 0h1m5 0h1m4 0h1m5 0h1m5 0h1m4 0h1"/><path d="M180 768.5h1m5 0h1m4 0h1m5 0h1m5 0h1m4 0h1m5 0h1m5 0h1m4 0h1m5 0h1m4 0h1m5 0h1m5 0h1m4 0h1m5 0h1m5 0h1m4 0h1m5 0h1m5 0h1m4 0h1m5 0h1m5 0h1m4 0h1m5 0h1m5 0h1m4 0h1m5 0h1m5 0h1m4 0h1m5 0h1m5 0h1m4 0h1m5 0h1m5 0h1m4 0h1m5 0h1m5 0h1m4 0h1m5 0h1m5 0h1m4 0h1m5 0h1m5 0h1m4 0h1m5 0h1m5 0h1m4 0h1m5 0h1m5 0h1m4 0h1m5 0h1m5 0h1m4 0h1m5 0h1m4 0h1m5 0h1m5 0h1m4 0h1m5 0h1m5 0h1m4 0h1m5 0h1m5 0h1m4 0h1m5 0h1m5 0h1m4 0h1m5 0h1m5 0h1m4 0h1m5 0h1m5 0h1m4 0h1m5 0h1m5 0h1m4 0h1m5 0h1m5 0h1m4 0h1m5 0h1m5 0h1m4 0h1m5 0h1m5 0h1m4 0h1m5 0h1m5 0h1m4 0h1m5 0h1m5 0h1m4 0h1"/></g>
<text class="c" x="165.6" y="78.91" textLength="21.09" lengthAdjust="spacing">Zug</text>
<text class="c" x="165.6" y="105.51" textLength="66.42" lengthAdjust="spacing">Basel-Stadt</text>
<text class="c" x="165.6" y="132.12" textLength="63.88" lengthAdjust="spacing">Basel-Land</text>
<text class="c" x="165.6" y="158.73" textLength="69.63" lengthAdjust="spacing">Graubünden</text>
<text class="c" x="165.6" y="185.34" textLength="46.69" lengthAdjust="spacing">Thurgau</text>
<text class="c" x="165.6" y="211.94" textLength="29.28" lengthAdjust="spacing">Vaud</text>
<text class="c" x="165.6" y="238.55" textLength="42.36" lengthAdjust="spacing">Genève</text>
<text class="c" x="165.6" y="265.16" textLength="33.91" lengthAdjust="spacing">Ticino</text>
<text class="c" x="165.6" y="291.76" textLength="35.63" lengthAdjust="spacing">Valais</text>
<text class="c" x="165.6" y="318.37" textLength="53.45" lengthAdjust="spacing">St. Gallen</text>
<text class="c" x="165.6" y="344.98" textLength="16.07" lengthAdjust="spacing">Uri</text>
<text class="c" x="165.6" y="371.59" textLength="59.3" lengthAdjust="spacing">Nidwalden</text>
<text class="c" x="165.6" y="398.19" textLength="39.43" lengthAdjust="spacing">Luzern</text>
<text class="c" x="165.6" y="424.8" textLength="90.77" lengthAdjust="spacing">Schweiz/Suisse</text>
<text class="c" x="165.6" y="451.41" textLength="47.72" lengthAdjust="spacing">Fribourg</text>
<text class="c" x="165.6" y="478.01" textLength="44.22" lengthAdjust="spacing">Schwyz</text>
<text class="c" x="165.6" y="504.62" textLength="35.87" lengthAdjust="spacing">Zürich</text>
<text class="c" x="165.6" y="531.23" textLength="26.35" lengthAdjust="spacing">Jura</text>
<text class="c" x="165.6" y="557.84" textLength="27.44" lengthAdjust="spacing">Bern</text>
<text class="c" x="165.6" y="584.44" textLength="57.44" lengthAdjust="spacing">Obwalden</text>
<text class="c" x="165.6" y="611.05" textLength="57.45" lengthAdjust="spacing">Neuchâtel</text>
<text class="c" x="165.6" y="637.66" textLength="41.64" lengthAdjust="spacing">Aargau</text>
<text class="c" x="165.6" y="664.26" textLength="78.98" lengthAdjust="spacing">Schaffhausen</text>
<text class="c" x="165.6" y="690.87" textLength="123.1" lengthAdjust="spacing">Appenzell-Innerhoden</text>
<text class="c" x="165.6" y="717.48" textLength="37.12" lengthAdjust="spacing">Glarus</text>
<text class="c" x="165.6" y="744.09" textLength="135.25" lengthAdjust="spacing">Appenzell-Ausserhoden</text>
<text class="c" x="165.6" y="770.69" textLength="54.95" lengthAdjust="spacing">Solothurn</text>
<text class="x" x="173.5" y="824">0</text>
<text class="x" x="303.5" y="824">1</text>
<text class="x" x="432.5" y="824">2</text>
<text class="x" x="562.5" y="824">3</text>
<text class="x" x="691.5" y="824">4</text>
<g class="k"><rect x="170.25" y="73.86" width="6.5" height="6.5" fill="#f00"/><path d="M172.56 73.36H174.44V75.23H175.38V77.11H176.31V78.98H177.25V80.86H169.75V78.98H170.69V77.11H171.62V75.23H172.56Z" fill="#00f"/><rect x="172" y="73.86" width="3" height="6.5"/></g>
<g class="k"><rect x="170.25" y="100.46" width="6.5" height="6.5" fill="#f00"/><path d="M172.56 99.96H174.44V101.84H175.38V103.71H176.31V105.59H177.25V107.46H169.75V105.59H170.69V103.71H171.62V101.84H172.56Z" fill="#00f"/><rect x="172" y="100.46" width="3" height="6.5"/></g>
<g class="k"><rect x="170.25" y="127.07" width="6.5" height="6.5" fill="#f00"/><path d="M172.56 126.57H174.44V128.45H175.38V130.32H176.31V132.2H177.25V134.07H169.75V132.2H170.69V130.32H171.62V128.45H172.56Z" fill="#00f"/><rect x="172" y="127.07" width="3" height="6.5"/></g>
<g class="k"><rect x="170.25" y="153.68" width="6.5" height="6.5" fill="#f00"/><path d="M172.56 153.18H174.44V155.05H175.38V156.93H176.31V158.8H177.25V160.68H169.75V158.8H170.69V156.93H171.62V155.05H172.56Z" fill="#00f"/><rect x="172" y="153.68" width="3" height="6.5"/></g>
<g class="k"><rect x="170.25" y="180.29" width="6.5" height="6.5" fill="#f00"/><path d="M172.56 179.79H174.44V181.66H175.38V183.54H176.31V185.41H177.25V187.29H169.75V185.41H170.69V183.54H171.62V181.66H172.56Z" fill="#00f"/><rect x="172" y="180.29" width="3" height="6.5"/></g>
<g class="k"><rect x="174.25" y="206.89" width="6.5" height="6.5" fill="#f00"/><path d="M176.06 206.39H177.94V208.27H178.88V210.14H179.81V212.02H180.75V213.89H173.25V212.02H174.19V210.14H175.12V208.27H176.06Z" fill="#00f"/><rect x="176.5" y="210" width="3" height="1"/><rect x="175" y="206.89" width="3" height="6.5"/><rect x="178" y="206.89" width="3" height="6.5"/></g>
<g class="k"><rect x="177.25" y="233.5" width="6.5" height="6.5" fill="#f00"/><path d="M179.56 233H181.44V234.88H182.38V236.75H183.31V238.62H184.25V240.5H176.75V238.62H177.69V236.75H178.62V234.88H179.56Z" fill="#00f"/><rect x="179" y="233.5" width="3" height="6.5"/></g>
<g class="k"><rect x="181.25" y="260.11" width="6.5" height="6.5" fill="#f00"/><path d="M183.06 259.61H184.94V261.48H185.88V263.36H186.81V265.23H187.75V267.11H180.25V265.23H181.19V263.36H182.12V261.48H183.06Z" fill="#00f"/><rect x="183" y="260.11" width="3" height="6.5"/></g>
<g class="k"><rect x="188.25" y="286.71" width="6.5" height="6.5" fill="#f00"/><path d="M181.56 286.21H183.44V288.09H184.38V289.96H185.31V291.84H186.25V293.71H178.75V291.84H179.69V289.96H180.62V288.09H181.56Z" fill="#00f"/><rect x="179.5" y="289" width="74" height="1"/><rect x="178" y="286.71" width="3" height="6.5"/><rect x="252" y="286.71" width="3" height="6.5"/></g>
<g class="k"><rect x="204.75" y="313.32" width="6.5" height="6.5" fill="#f00"/><path d="M208.56 312.82H210.44V314.7H211.38V316.57H212.31V318.45H213.25V320.32H205.75V318.45H206.69V316.57H207.62V314.7H208.56Z" fill="#00f"/><rect x="200.5" y="316" width="11" height="1"/><rect x="199" y="313.32" width="3" height="6.5"/><rect x="210" y="313.32" width="3" height="6.5"/></g>
<g class="k"><rect x="225.25" y="339.93" width="6.5" height="6.5" fill="#f00"/><path d="M226.56 339.43H228.44V341.3H229.38V343.18H230.31V345.05H231.25V346.93H223.75V345.05H224.69V343.18H225.62V341.3H226.56Z" fill="#00f"/><rect x="226.5" y="343" width="4" height="1"/><rect x="225" y="339.93" width="3" height="6.5"/><rect x="229" y="339.93" width="3" height="6.5"/></g>
<g class="k"><rect x="227.25" y="366.54" width="6.5" height="6.5" fill="#f00"/><path d="M230.56 366.04H232.44V367.91H233.38V369.79H234.31V371.66H235.25V373.54H227.75V371.66H228.69V369.79H229.62V367.91H230.56Z" fill="#00f"/><rect x="223.5" y="369" width="13" height="1"/><rect x="222" y="366.54" width="3" height="6.5"/><rect x="235" y="366.54" width="3" height="6.5"/></g>
<g class="k"><rect x="237.75" y="393.14" width="6.5" height="6.5" fill="#f00"/><path d="M235.81 392.64H237.69V394.52H238.62V396.39H239.56V398.27H240.5V400.14H233V398.27H233.94V396.39H234.88V394.52H235.81Z" fill="#00f"/><rect x="223.5" y="396" width="25" height="1"/><rect x="222" y="393.14" width="3" height="6.5"/><rect x="247" y="393.14" width="3" height="6.5"/></g>
<g class="k"><rect x="280.25" y="419.75" width="6.5" height="6.5" fill="#f00"/><rect x="173.5" y="423" width="465" height="1"/><rect x="172" y="419.75" width="3" height="6.5"/><rect x="637" y="419.75" width="3" height="6.5"/></g>
<g class="k"><rect x="288.75" y="446.36" width="6.5" height="6.5" fill="#f00"/><path d="M289.06 445.86H290.94V447.73H291.88V449.61H292.81V451.48H293.75V453.36H286.25V451.48H287.19V449.61H288.12V447.73H289.06Z" fill="#00f"/><rect x="259.5" y="449" width="46" height="1"/><rect x="258" y="446.36" width="3" height="6.5"/><rect x="304" y="446.36" width="3" height="6.5"/></g>
<g class="k"><rect x="297.25" y="472.96" width="6.5" height="6.5" fill="#f00"/><path d="M303.56 472.46H305.44V474.34H306.38V476.21H307.31V478.09H308.25V479.96H300.75V478.09H301.69V476.21H302.62V474.34H303.56Z" fill="#00f"/><rect x="253.5" y="476" width="61" height="1"/><rect x="252" y="472.96" width="3" height="6.5"/><rect x="313" y="472.96" width="3" height="6.5"/></g>
<g class="k"><rect x="298.25" y="499.57" width="6.5" height="6.5" fill="#f00"/><path d="M321.06 499.07H322.94V500.95H323.88V502.82H324.81V504.7H325.75V506.57H318.25V504.7H319.19V502.82H320.12V500.95H321.06Z" fill="#00f"/><rect x="282.5" y="502" width="40" height="1"/><rect x="281" y="499.57" width="3" height="6.5"/><rect x="321" y="499.57" width="3" height="6.5"/></g>
<g class="k"><rect x="314.25" y="526.18" width="6.5" height="6.5" fill="#f00"/><path d="M308.06 525.68H309.94V527.55H310.88V529.43H311.81V531.3H312.75V533.18H305.25V531.3H306.19V529.43H307.12V527.55H308.06Z" fill="#00f"/><rect x="299.5" y="529" width="25" height="1"/><rect x="298" y="526.18" width="3" height="6.5"/><rect x="323" y="526.18" width="3" height="6.5"/></g>
<g class="k"><rect x="317.25" y="552.79" width="6.5" height="6.5" fill="#f00"/><path d="M313.56 552.29H315.44V554.16H316.38V556.04H317.31V557.91H318.25V559.79H310.75V557.91H311.69V556.04H312.62V554.16H313.56Z" fill="#00f"/><rect x="295.5" y="556" width="40" height="1"/><rect x="294" y="552.79" width="3" height="6.5"/><rect x="334" y="552.79" width="3" height="6.5"/></g>
<g class="k"><rect x="319.25" y="579.39" width="6.5" height="6.5" fill="#f00"/><path d="M308.56 578.89H310.44V580.77H311.38V582.64H312.31V584.52H313.25V586.39H305.75V584.52H306.69V582.64H307.62V580.77H308.56Z" fill="#00f"/><rect x="309.5" y="582" width="24" height="1"/><rect x="308" y="579.39" width="3" height="6.5"/><rect x="332" y="579.39" width="3" height="6.5"/></g>
<g class="k"><rect x="323.25" y="606" width="6.5" height="6.5" fill="#f00"/><path d="M316.81 605.5H318.69V607.38H319.62V609.25H320.56V611.12H321.5V613H314V611.12H314.94V609.25H315.88V607.38H316.81Z" fill="#00f"/><rect x="314.5" y="609" width="21" height="1"/><rect x="313" y="606" width="3" height="6.5"/><rect x="334" y="606" width="3" height="6.5"/></g>
<g class="k"><rect x="338.75" y="632.61" width="6.5" height="6.5" fill="#f00"/><path d="M331.06 632.11H332.94V633.98H333.88V635.86H334.81V637.73H335.75V639.61H328.25V637.73H329.19V635.86H330.12V633.98H331.06Z" fill="#00f"/><rect x="300.5" y="635" width="57" height="1"/><rect x="299" y="632.61" width="3" height="6.5"/><rect x="356" y="632.61" width="3" height="6.5"/></g>
<g class="k"><rect x="374.25" y="659.21" width="6.5" height="6.5" fill="#f00"/><path d="M374.81 658.71H376.69V660.59H377.62V662.46H378.56V664.34H379.5V666.21H372V664.34H372.94V662.46H373.88V660.59H374.81Z" fill="#00f"/><rect x="344.5" y="662" width="48" height="1"/><rect x="343" y="659.21" width="3" height="6.5"/><rect x="391" y="659.21" width="3" height="6.5"/></g>
<g class="k"><rect x="459.75" y="685.82" width="6.5" height="6.5" fill="#f00"/><path d="M434.06 685.32H435.94V687.2H436.88V689.07H437.81V690.95H438.75V692.82H431.25V690.95H432.19V689.07H433.12V687.2H434.06Z" fill="#00f"/><rect x="434.5" y="689" width="56" height="1"/><rect x="433" y="685.82" width="3" height="6.5"/><rect x="489" y="685.82" width="3" height="6.5"/></g>
<g class="k"><rect x="494.25" y="712.43" width="6.5" height="6.5" fill="#f00"/><path d="M495.56 711.93H497.44V713.8H498.38V715.68H499.31V717.55H500.25V719.43H492.75V717.55H493.69V715.68H494.62V713.8H495.56Z" fill="#00f"/><rect x="496.5" y="715" width="6" height="1"/><rect x="495" y="712.43" width="3" height="6.5"/><rect x="501" y="712.43" width="3" height="6.5"/></g>
<g class="k"><rect x="552.25" y="739.04" width="6.5" height="6.5" fill="#f00"/><path d="M554.56 738.54H556.44V740.41H557.38V742.29H558.31V744.16H559.25V746.04H551.75V744.16H552.69V742.29H553.62V740.41H554.56Z" fill="#00f"/><rect x="504.5" y="742" width="81" height="1"/><rect x="503" y="739.04" width="3" height="6.5"/><rect x="584" y="739.04" width="3" height="6.5"/></g>
<g class="k"><rect x="576.25" y="765.64" width="6.5" height="6.5" fill="#f00"/><path d="M577.56 765.14H579.44V767.02H580.38V768.89H581.31V770.77H582.25V772.64H574.75V770.77H575.69V768.89H576.62V767.02H577.56Z" fill="#00f"/><rect x="481.5" y="768" width="157" height="1"/><rect x="480" y="765.64" width="3" height="6.5"/><rect x="637" y="765.64" width="3" height="6.5"/></g>
<g class="k"><rect x="173" y="50" width="519" height="1"/><rect x="173" y="795" width="519" height="1"/><rect x="173" y="50" width="1" height="746"/><rect x="691" y="50" width="1" height="746"/>
<rect x="173" y="796" width="1" height="9"/>
<rect x="303" y="796" width="1" height="9"/>
<rect x="432" y="796" width="1" height="9"/>
<rect x="562" y="796" width="1" height="9"/>
<rect x="691" y="796" width="1" height="9"/>
<rect x="169" y="76" width="3" height="1"/>
<rect x="169" y="103" width="3" height="1"/>
<rect x="169" y="130" width="3" height="1"/>
<rect x="169" y="156" width="3" height="1"/>
<rect x="169" y="183" width="3" height="1"/>
<rect x="169" y="209" width="3" height="1"/>
<rect x="169" y="236" width="3" height="1"/>
<rect x="169" y="263" width="3" height="1"/>
<rect x="169" y="289" width="3" height="1"/>
<rect x="169" y="316" width="3" height="1"/>
<rect x="169" y="342" width="3" height="1"/>
<rect x="169" y="369" width="3" height="1"/>
<rect x="169" y="396" width="3" height="1"/>
<rect x="169" y="422" width="3" height="1"/>
<rect x="169" y="449" width="3" height="1"/>
<rect x="169" y="476" width="3" height="1"/>
<rect x="169" y="502" width="3" height="1"/>
<rect x="169" y="529" width="3" height="1"/>
<rect x="169" y="555" width="3" height="1"/>
<rect x="169" y="582" width="3" height="1"/>
<rect x="169" y="609" width="3" height="1"/>
<rect x="169" y="635" width="3" height="1"/>
<rect x="169" y="662" width="3" height="1"/>
<rect x="169" y="688" width="3" height="1"/>
<rect x="169" y="715" width="3" height="1"/>
<rect x="169" y="742" width="3" height="1"/>
<rect x="169" y="768" width="3" height="1"/>
</g>
<g class="t"><text x="211.95" y="854" textLength="137.27" lengthAdjust="spacing">Steuerbelastung/Charge</text><text x="352.75" y="854" textLength="37.94" lengthAdjust="spacing">fiscale</text><text x="394.1" y="854">(</text><text transform="translate(398.4 854) scale(.81 1)">%</text><text x="411.11" y="854" textLength="20.26" lengthAdjust="spacing">des</text><text x="434.39" y="854" textLength="108.91" lengthAdjust="spacing">Bruttoeinkommens</text><text x="546.93" y="854">/</text><text transform="translate(552.6 854) scale(.81 1)">%</text><text x="564.57" y="854" textLength="14.17" lengthAdjust="spacing">du</text><text x="581.16" y="854" textLength="37.86" lengthAdjust="spacing">revenu</text><text x="622.63" y="854" textLength="27.58" lengthAdjust="spacing">brut)</text></g>
<rect x="312.25" y="878.1" width="7.5" height="7.5" fill="#f00"/>
<text class="l" x="323" y="888" textLength="105.5" lengthAdjust="spacing">Median/Médiane</text>
<path d="M458.5 877.6L463.2 886H453.8Z" fill="#00f"/>
<text class="l" x="465.8" y="888" textLength="115" lengthAdjust="spacing">Hauptort/Chef-lieu</text>
</svg></body></html>
